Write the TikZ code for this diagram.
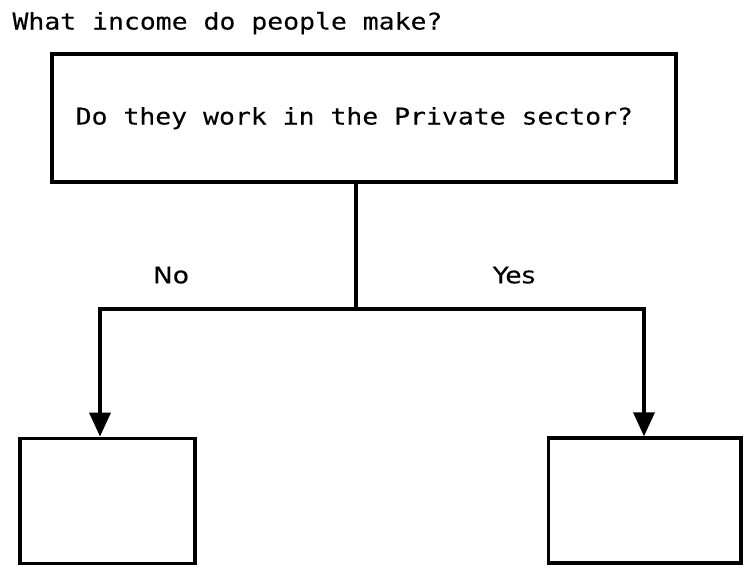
\documentclass[tikz,border=0pt]{standalone}
\usepackage{fontspec}
\newfontfamily\flowmono[FakeStretch=1.15,FakeBold=0.2]{DejaVu Sans Mono}
\newfontfamily\flowsans[FakeStretch=1.15,FakeBold=0.2]{DejaVu Sans}
\usetikzlibrary{arrows.meta}
\begin{document}
\begin{tikzpicture}[x=1pt,y=-1pt,
  box/.style={draw, line width=3.6pt, rectangle, inner sep=0pt},
  link/.style={line width=3.6pt},
  flowarrow/.style={link, -{Triangle[length=24pt,width=21pt]}},
  monotext/.style={font=\flowmono\fontsize{23}{27}\selectfont, inner sep=0pt, anchor=base west},
  branch/.style={font=\flowsans\fontsize{23}{27}\selectfont, inner sep=0pt, anchor=base},
]
\useasboundingbox (0,0) rectangle (748,566);
% heading
\node[monotext] (title) at (12.3,29.5) {What income do people make?};
% question box
\node[box, minimum width=624pt, minimum height=128pt] (q) at (364,117.7) {};
\node[monotext] (qtext) at (75.5,124.5) {Do they work in the Private sector?};
% answer boxes
\node[box, minimum width=175pt, minimum height=125pt] (no) at (107.5,500.9) {};
\node[box, minimum width=192.5pt, minimum height=125pt] (yes) at (644.75,500.65) {};
% branching connectors
\coordinate (split) at (356,309);
\draw[link] ([xshift=-8pt]q.south) -- (split);
\draw[flowarrow] (split) -| ([xshift=-7.5pt]no.north);
\draw[flowarrow] (split) -| ([xshift=-0.75pt]yes.north);
% branch labels
\node[branch] (nolabel) at (171,283.3) {No};
\node[branch] (yeslabel) at (514,283.3) {Yes};
\end{tikzpicture}
\end{document}
